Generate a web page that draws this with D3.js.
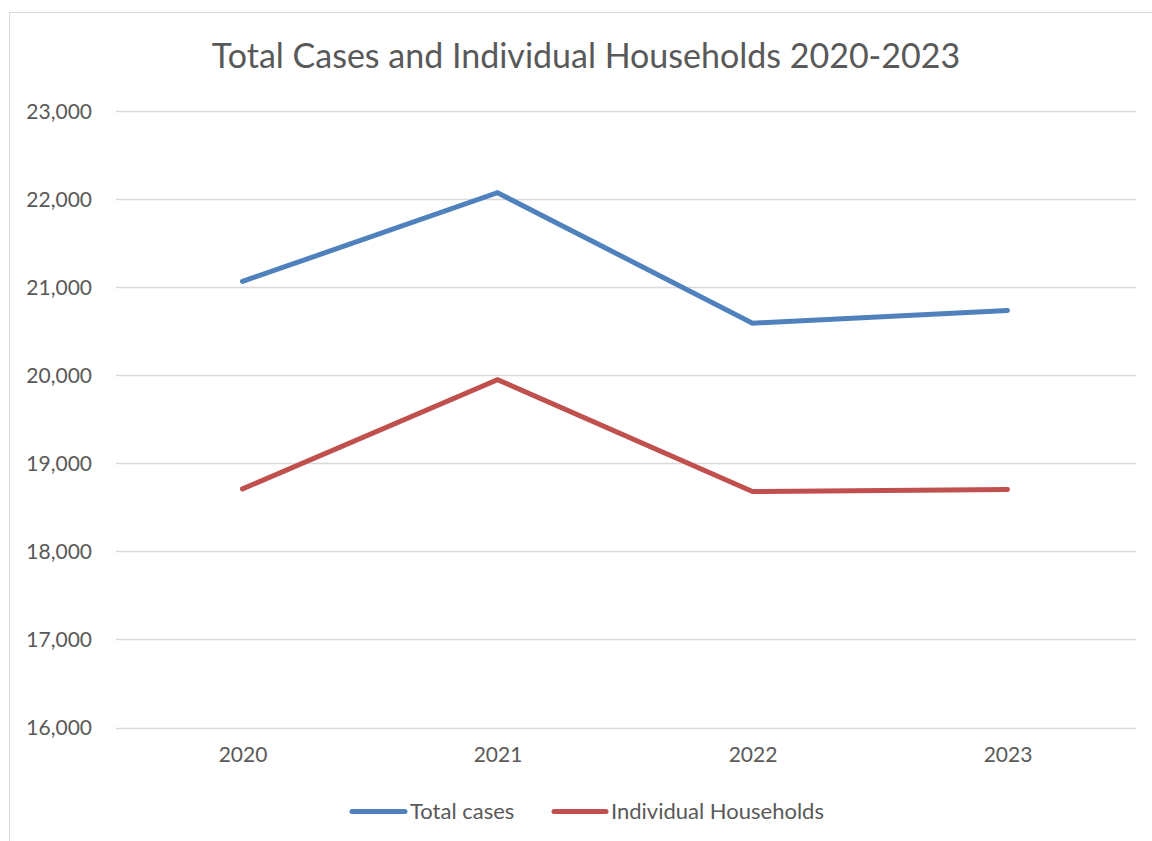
<!DOCTYPE html>
<html>
<head>
<meta charset="utf-8">
<script src="https://cdn.jsdelivr.net/npm/d3@7"></script>
<style>
  html, body { margin: 0; padding: 0; background: #fff; }
  svg { display: block; }
  text { font-family: Lato, "Open Sans", sans-serif; fill: #595959; }
</style>
</head>
<body>
<svg id="chart" width="1152" height="841"></svg>
<script>
const years = ["2020", "2021", "2022", "2023"];
const totalCases = [21065, 22072, 20591, 20736];
const individualHouseholds = [18709, 19950, 18680, 18702];
const yTicks = [16000, 17000, 18000, 19000, 20000, 21000, 22000, 23000];
const seriesNames = ["Total cases", "Individual Households"];
const seriesColors = ["#4F81BD", "#C0504D"];
const chartTitle = "Total Cases and Individual Households 2020-2023";

const svg = d3.select("#chart");
const W = 1152, H = 841;

// chart frame
svg.append("rect")
  .attr("x", 9.5).attr("y", 12.5)
  .attr("width", W + 10).attr("height", H + 10)
  .attr("fill", "#fff").attr("stroke", "#D9D9D9").attr("stroke-width", 1);

const plot = { left: 115, right: 1135, top: 111, bottom: 727.5 };

const x = d3.scalePoint().domain(years).range([plot.left, plot.right]).padding(0.5);
const y = d3.scaleLinear().domain([16000, 23000]).range([plot.bottom, plot.top]);

// title
svg.append("text")
  .attr("x", 586).attr("y", 68)
  .attr("text-anchor", "middle")
  .style("font-size", "34px")
  .text(chartTitle);

// horizontal gridlines
svg.append("g").selectAll("line").data(yTicks).join("line")
  .attr("x1", plot.left + 1).attr("x2", plot.right + 1)
  .attr("y1", d => Math.round(y(d)) + 0.5).attr("y2", d => Math.round(y(d)) + 0.5)
  .attr("stroke", "#D9D9D9").attr("stroke-width", 1.5);

// y axis labels
const yAxis = d3.axisLeft(y).tickValues(yTicks).tickFormat(d3.format(",")).tickSize(0).tickPadding(0);
const gy = svg.append("g").attr("transform", `translate(92,0)`).call(yAxis);
gy.select(".domain").remove();
gy.selectAll("text").style("font-size", "21px").style("font-family", "Lato, sans-serif").attr("fill", "#595959").attr("dy", "0.35em");

// x axis labels
const xAxis = d3.axisBottom(x).tickSize(0).tickPadding(0);
const gx = svg.append("g").attr("transform", `translate(0,${plot.bottom + 20})`).call(xAxis);
gx.select(".domain").remove();
gx.selectAll("text").style("font-size", "21px").style("font-family", "Lato, sans-serif").attr("fill", "#595959").attr("dy", "0.71em");

// series lines
const line = d3.line().x((d, i) => x(years[i])).y(d => y(d));
[totalCases, individualHouseholds].forEach((vals, k) => {
  svg.append("path")
    .datum(vals)
    .attr("d", line)
    .attr("fill", "none")
    .attr("stroke", seriesColors[k])
    .attr("stroke-width", 5)
    .attr("stroke-linejoin", "miter")
    .attr("stroke-linecap", "round");
});

// legend
const legendItems = [
  { x1: 352, x2: 405, tx: 410 },
  { x1: 554, x2: 606, tx: 611 }
];
const lg = svg.append("g");
legendItems.forEach((it, k) => {
  lg.append("line")
    .attr("x1", it.x1).attr("x2", it.x2)
    .attr("y1", 811.5).attr("y2", 811.5)
    .attr("stroke", seriesColors[k]).attr("stroke-width", 5)
    .attr("stroke-linecap", "round");
  lg.append("text")
    .attr("x", it.tx).attr("y", 819)
    .style("font-size", "22px")
    .text(seriesNames[k]);
});
</script>
</body>
</html>
